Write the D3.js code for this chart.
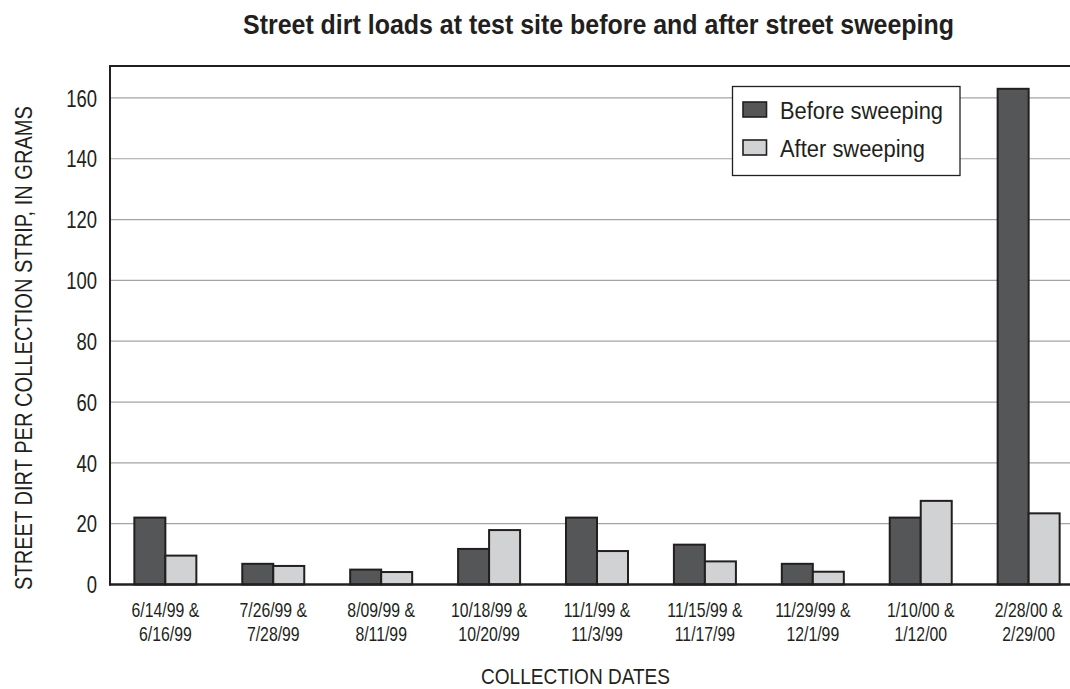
<!DOCTYPE html>
<html><head><meta charset="utf-8">
<script src="https://cdn.jsdelivr.net/npm/d3@7"></script>
<style>body{margin:0;background:#fff}svg{display:block}</style>
</head><body><svg id="c" width="1070" height="689"></svg>
<script>
const categories = ["6/14/99 &|6/16/99","7/26/99 &|7/28/99","8/09/99 &|8/11/99","10/18/99 &|10/20/99","11/1/99 &|11/3/99","11/15/99 &|11/17/99","11/29/99 &|12/1/99","1/10/00 &|1/12/00","2/28/00 &|2/29/00"];
const seriesNames = ["Before sweeping","After sweeping"];
const beforeValues = [22, 6.8, 4.9, 11.7, 22, 13.1, 6.8, 22, 163];
const afterValues = [9.5, 6.1, 4.1, 17.9, 11.0, 7.6, 4.2, 27.5, 23.4];
const yTicks = [0,20,40,60,80,100,120,140,160];
const titleText = "Street dirt loads at test site before and after street sweeping";
const yTitle = "STREET DIRT PER COLLECTION STRIP, IN GRAMS";
const xTitle = "COLLECTION DATES";

const FONT = "'Liberation Sans',Arial,sans-serif";
const INK = "#231f20";
const colors = {"Before sweeping":"#555658","After sweeping":"#d1d2d4"};

const svg = d3.select("#c");
const W = 1070;
const mLeft = 110, mTop = 66, mBottom = 584.5;
const x0 = d3.scaleBand().domain(categories).range([111.4, 1082.6]).padding(0);
const groupW = 62;
const x1 = d3.scaleBand().domain(seriesNames).range([x0.bandwidth()/2 - groupW/2, x0.bandwidth()/2 + groupW/2]);
const y = d3.scaleLinear().domain([0, 170.5]).range([mBottom, mTop]);

// gridlines
svg.append("g").selectAll("line").data(yTicks.filter(d=>d>0)).join("line")
  .attr("x1", mLeft).attr("x2", W).attr("y1", d=>y(d)).attr("y2", d=>y(d))
  .attr("stroke", "#a3a4a6").attr("stroke-width", 1.2);

// y tick labels (condensed via horizontal scale)
svg.append("g").selectAll("text").data(yTicks).join("text")
  .attr("transform", d=>`translate(97,${y(d)}) scale(0.77,1)`).attr("dy","0.36em")
  .attr("text-anchor","end").attr("font-family",FONT).attr("font-size",24)
  .attr("fill",INK).text(d=>d);

// bars
const data = categories.map((c,i)=>({cat:c, vals:[{s:seriesNames[0], v:beforeValues[i]},{s:seriesNames[1], v:afterValues[i]}]}));
const g = svg.append("g").selectAll("g").data(data).join("g")
  .attr("transform", d=>`translate(${x0(d.cat)},0)`);
g.selectAll("rect").data(d=>d.vals).join("rect")
  .attr("x", d=>x1(d.s)).attr("width", x1.bandwidth())
  .attr("y", d=>y(d.v)).attr("height", d=>y(0)-y(d.v))
  .attr("fill", d=>colors[d.s]).attr("stroke", INK).attr("stroke-width", 2);

// axes frame
svg.append("line").attr("x1",mLeft).attr("x2",W).attr("y1",mTop).attr("y2",mTop).attr("stroke",INK).attr("stroke-width",2);
svg.append("line").attr("x1",mLeft).attr("x2",mLeft).attr("y1",mTop-1).attr("y2",mBottom+1).attr("stroke",INK).attr("stroke-width",2);
svg.append("line").attr("x1",mLeft-1).attr("x2",W).attr("y1",mBottom).attr("y2",mBottom).attr("stroke",INK).attr("stroke-width",2.5);

// x tick labels
const xl = svg.append("g").selectAll("g").data(categories).join("g")
  .attr("transform", d=>`translate(${x0(d)+x0.bandwidth()/2},0) scale(0.79,1)`);
xl.selectAll("text").data(d=>d.split("|")).join("text")
  .attr("text-anchor","middle").attr("font-family",FONT).attr("font-size",20).attr("fill",INK)
  .attr("x",0).attr("y",(d,i)=>616.7 + i*24.5).text(d=>d);

// titles
svg.append("text").attr("x",243).attr("y",34)
  .attr("textLength",711).attr("lengthAdjust","spacingAndGlyphs")
  .attr("font-family",FONT).attr("font-weight","bold").attr("font-size",27.5).attr("fill",INK).text(titleText);
svg.append("text").attr("x",481).attr("y",684)
  .attr("textLength",189).attr("lengthAdjust","spacingAndGlyphs")
  .attr("font-family",FONT).attr("font-size",22).attr("fill",INK).text(xTitle);
svg.append("text").attr("transform","translate(31.7,590) rotate(-90)")
  .attr("textLength",484).attr("lengthAdjust","spacingAndGlyphs")
  .attr("font-family",FONT).attr("font-size",23).attr("fill",INK).text(yTitle);

// legend
const legendWidths = [163, 145];
const lg = svg.append("g");
lg.append("rect").attr("x",732.5).attr("y",86.5).attr("width",227.5).attr("height",89)
  .attr("fill","#fff").attr("stroke",INK).attr("stroke-width",1.3);
const items = lg.selectAll("g").data(seriesNames).join("g")
  .attr("transform",(d,i)=>`translate(0,${i*38})`);
items.append("rect").attr("x",743).attr("y",102).attr("width",23.5).attr("height",15)
  .attr("fill",d=>colors[d]).attr("stroke",INK).attr("stroke-width",1.6);
items.append("text").attr("x",780).attr("y",119.3).attr("font-family",FONT).attr("font-size",23)
  .attr("textLength",(d,i)=>legendWidths[i]).attr("lengthAdjust","spacingAndGlyphs")
  .attr("fill",INK).text(d=>d);
</script></body></html>
